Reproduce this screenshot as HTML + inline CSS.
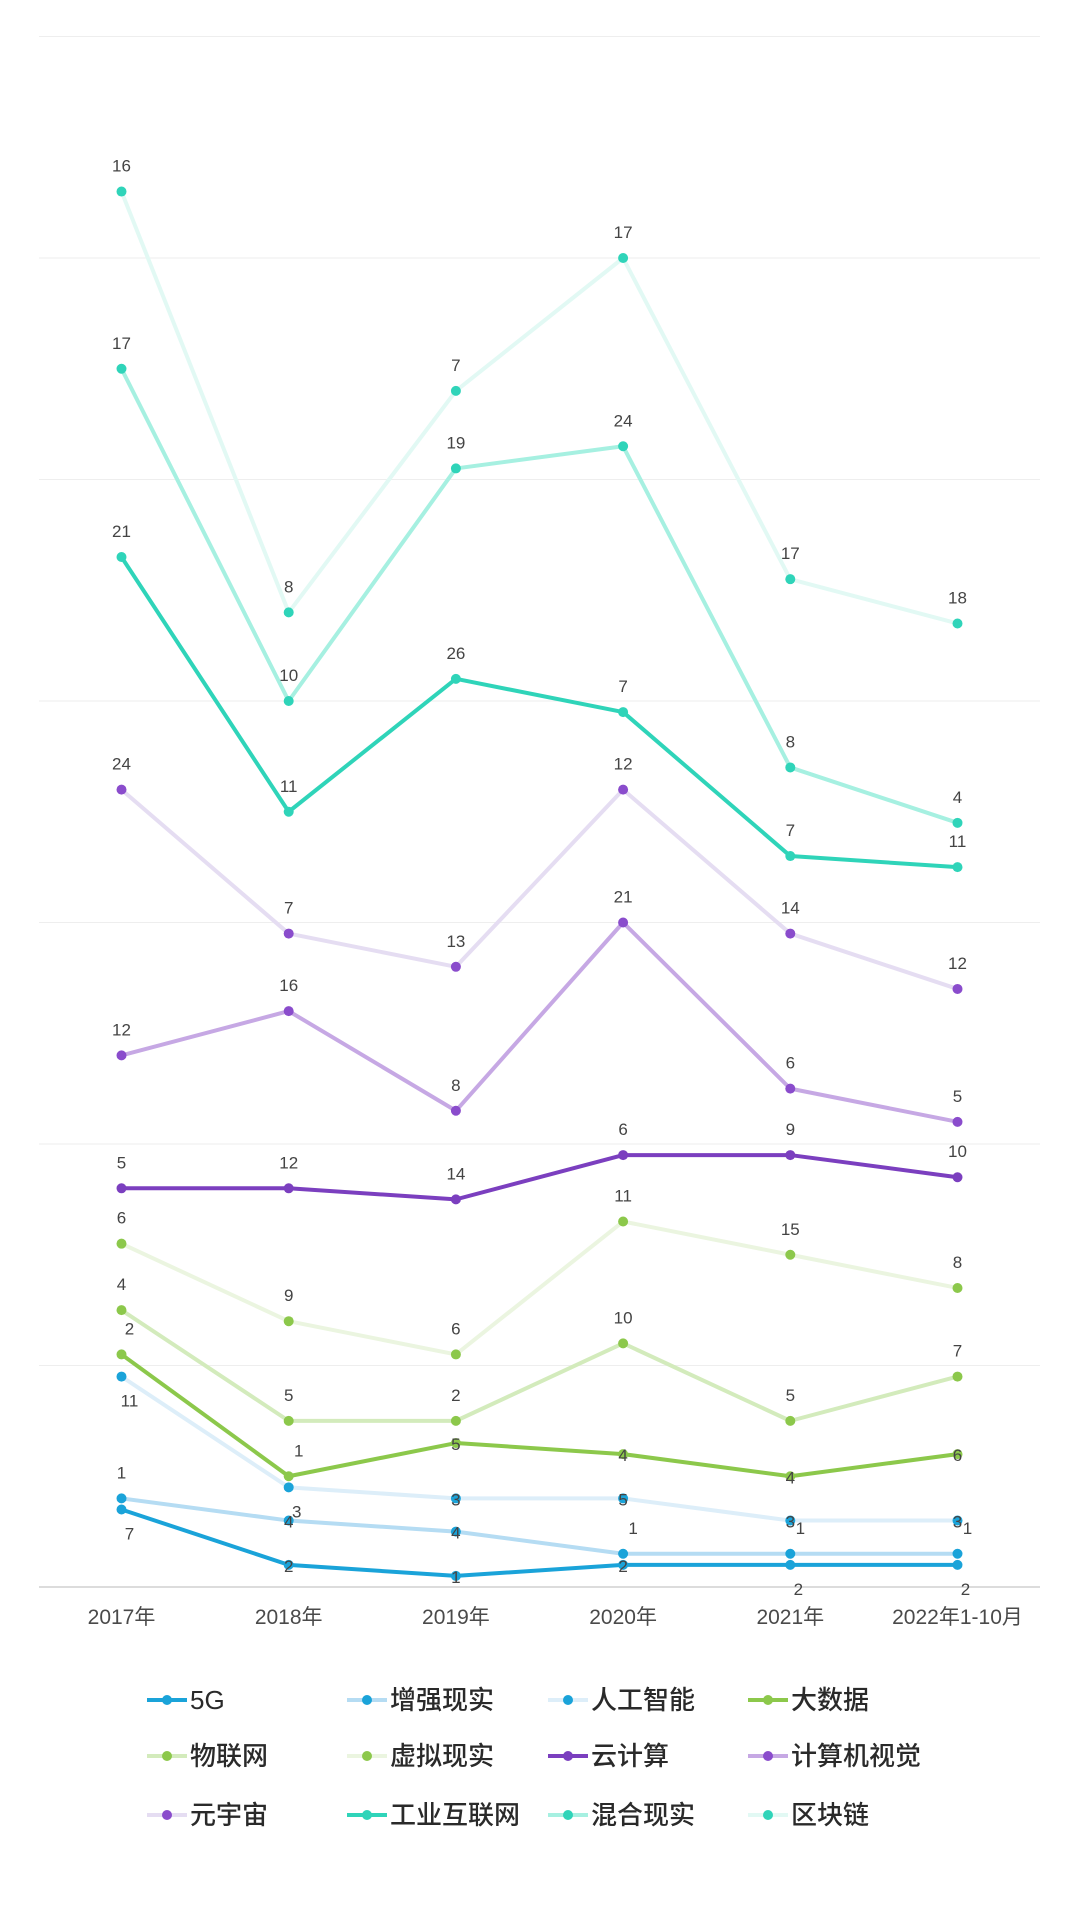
<!DOCTYPE html>
<html><head><meta charset="utf-8">
<style>
html,body{margin:0;padding:0;background:#fff;}
svg{display:block;font-family:"Liberation Sans","Noto Sans CJK SC",sans-serif;}
</style></head>
<body>
<svg id="chart" width="1080" height="1920" viewBox="0 0 1080 1920" xmlns="http://www.w3.org/2000/svg"></svg>
<script>
const categories = ["2017年","2018年","2019年","2020年","2021年","2022年1-10月"];
const seriesNames = ["5G","增强现实","人工智能","大数据","物联网","虚拟现实","云计算","计算机视觉","元宇宙","工业互联网","混合现实","区块链"];
const s5G = [7,2,1,2,2,2];
const sAR = [1,4,4,1,1,1];
const sAI = [11,3,3,5,3,3];
const sBigData = [2,1,5,4,4,6];
const sIoT = [4,5,2,10,5,7];
const sVR = [6,9,6,11,15,8];
const sCloud = [5,12,14,6,9,10];
const sCV = [12,16,8,21,6,5];
const sMeta = [24,7,13,12,14,12];
const sIndustrial = [21,11,26,7,7,11];
const sMR = [17,10,19,24,8,4];
const sChain = [16,8,7,17,17,18];
const yTicks = [0,20,40,60,80,100,120,140];

const allSeries = [s5G,sAR,sAI,sBigData,sIoT,sVR,sCloud,sCV,sMeta,sIndustrial,sMR,sChain];
const lineColors = ["#1aa3d9","#b5dcf3","#ddeef9","#8cc84b","#d3ebbc","#ebf5e0","#7b3fbf","#c6a8e4","#e5ddf2","#2fd4b9","#a6f0e1","#e2f9f4"];
const dotColors = ["#1aa3d9","#1aa3d9","#1aa3d9","#8cc84b","#8cc84b","#8cc84b","#7b3fbf","#8a4ccc","#8a4ccc","#2fd4b9","#2fd4b9","#2fd4b9"];

const svg = document.getElementById('chart');
const NS = "http://www.w3.org/2000/svg";
const X0 = 121.5, XSTEP = 167.2, BASE = 1587, YMAX = 140, YTOP = 36.5;
function xPos(i){ return X0 + i*XSTEP; }
function yPos(v){ return BASE - v/YMAX*(BASE-YTOP); }
function mk(tag, attrs){ const e=document.createElementNS(NS,tag); for(const k in attrs) e.setAttribute(k,attrs[k]); svg.appendChild(e); return e; }

yTicks.forEach(t=>{
  const g = mk('line',{x1:39,x2:1040,y1:yPos(t),y2:yPos(t),stroke: t===0?'#d0d0d0':'#eeeeee','stroke-width':t===0?1.5:1});
  
  
});
categories.forEach((c,i)=>{
  const t = mk('text',{x:xPos(i),y:1624,'text-anchor':'middle','font-size':21,fill:'#4a4a4a'});
  t.textContent=c;
  
  
});

const cum = [];
let run = categories.map(()=>0);
allSeries.forEach(s=>{ run = run.map((v,i)=>v+s[i]); cum.push(run.slice()); });

for(let k=allSeries.length-1;k>=0;k--){
  const pts = cum[k].map((v,i)=>xPos(i)+','+yPos(v)).join(' ');
  const pl = mk('polyline',{points:pts,fill:'none',stroke:lineColors[k],'stroke-width':4,'stroke-linejoin':'round'});
  
  
  cum[k].forEach((v,i)=>{
    const c = mk('circle',{cx:xPos(i),cy:yPos(v),r:5,fill:dotColors[k]});
    
    
  });
}
const belowSet = {"0-0":1,"2-0":1,"0-4":1,"0-5":1,"2-1":1};
const centerSet = {"0-1":1,"0-2":1,"0-3":1,"1-1":1,"1-2":1,"2-2":1,"2-3":1,"2-4":1,"2-5":1,"3-2":1,"3-3":1,"3-4":1,"3-5":1};
allSeries.forEach((s,k)=>{
  s.forEach((v,i)=>{
    const key=k+'-'+i;
    let dx=0, dy=-20;
    if(belowSet[key]){dy=30; dx=8;}
    else if(centerSet[key]){dy=7;}
    else if(k<=3 && i>0){dx=10;}
    if(key==="3-0"){dx=8;}
    const t = mk('text',{x:xPos(i)+dx,y:yPos(cum[k][i])+dy,'text-anchor':'middle','font-size':17,fill:'#444'});
    t.textContent=v;
    
    
  });
});

const legX = [147,347,548,748], legY=[1700,1756,1815];
seriesNames.forEach((n,k)=>{
  const lx = legX[k%4], ly = legY[Math.floor(k/4)];
  const l = mk('line',{x1:lx,x2:lx+40,y1:ly,y2:ly,stroke:lineColors[k],'stroke-width':4});
  
  
  const c = mk('circle',{cx:lx+20,cy:ly,r:5,fill:dotColors[k]});
  
  
  const t = mk('text',{x:lx+43,y:ly+9,'font-size':26,'font-weight':500,fill:'#2a2a2a'});
  t.textContent=n;
  
  
});
</script>
</body></html>
